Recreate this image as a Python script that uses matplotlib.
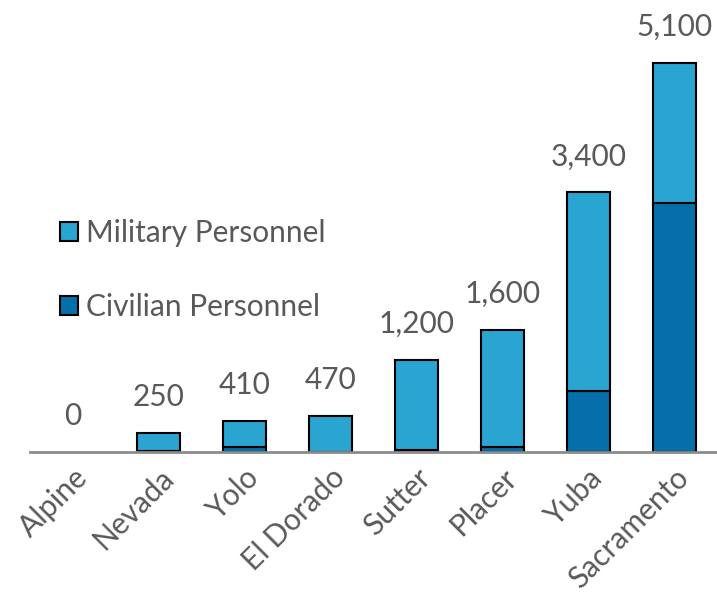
import matplotlib.pyplot as plt
import numpy as np

counties = ['Alpine', 'Nevada', 'Yolo', 'El Dorado', 'Sutter', 'Placer', 'Yuba', 'Sacramento']
civilian = [0, 10, 60, 0, 20, 60, 800, 3260]
military = [0, 240, 350, 470, 1180, 1540, 2600, 1840]
totals = [0, 250, 410, 470, 1200, 1600, 3400, 5100]

mil_color = '#2AA4D1'
civ_color = '#066FA9'
text_color = '#595959'

plt.rcParams['font.family'] = ['Lato', 'DejaVu Sans']

fig = plt.figure(figsize=(7.17, 6.0), dpi=100)
ax = fig.add_axes([30 / 717, 148 / 600, 687 / 717, 452 / 600])

x = np.arange(len(counties))
# no outline on empty segments
civ_lw = [1.5 if v > 0 else 0 for v in civilian]
mil_lw = [1.5 if v > 0 else 0 for v in military]
ax.bar(x, civilian, width=0.5, color=civ_color, edgecolor='black', linewidth=civ_lw,
       label='Civilian Personnel', zorder=2)
ax.bar(x, military, width=0.5, bottom=civilian, color=mil_color, edgecolor='black',
       linewidth=mil_lw, label='Military Personnel', zorder=2)

for xi, t in zip(x, totals):
    ax.annotate(f'{t:,}', (xi, t), xytext=(0, 26), textcoords='offset points',
                ha='center', va='center', fontsize=21.5, color=text_color)

ax.set_xlim(-0.5, 7.5)
ax.set_ylim(0, 5920)
ax.set_yticks([])
ax.set_xticks(x)
ax.set_xticklabels(counties, rotation=45, ha='right', rotation_mode='anchor',
                   fontsize=21.5, color=text_color)
ax.tick_params(axis='x', length=0, pad=8)
for s in ['top', 'right', 'left']:
    ax.spines[s].set_visible(False)
ax.spines['bottom'].set_color('#8C8C8C')
ax.spines['bottom'].set_linewidth(2)

handles, labels = ax.get_legend_handles_labels()
leg = ax.legend(handles[::-1], labels[::-1], loc='upper left', bbox_to_anchor=(0.005, 0.575),
                frameon=False, fontsize=21.5, labelspacing=1.55, handlelength=0.6,
                handleheight=0.6, handletextpad=0.25, labelcolor=text_color)
for h in leg.legend_handles:
    h.set_linewidth(1.5)

fig.savefig('out.png', dpi=100)
